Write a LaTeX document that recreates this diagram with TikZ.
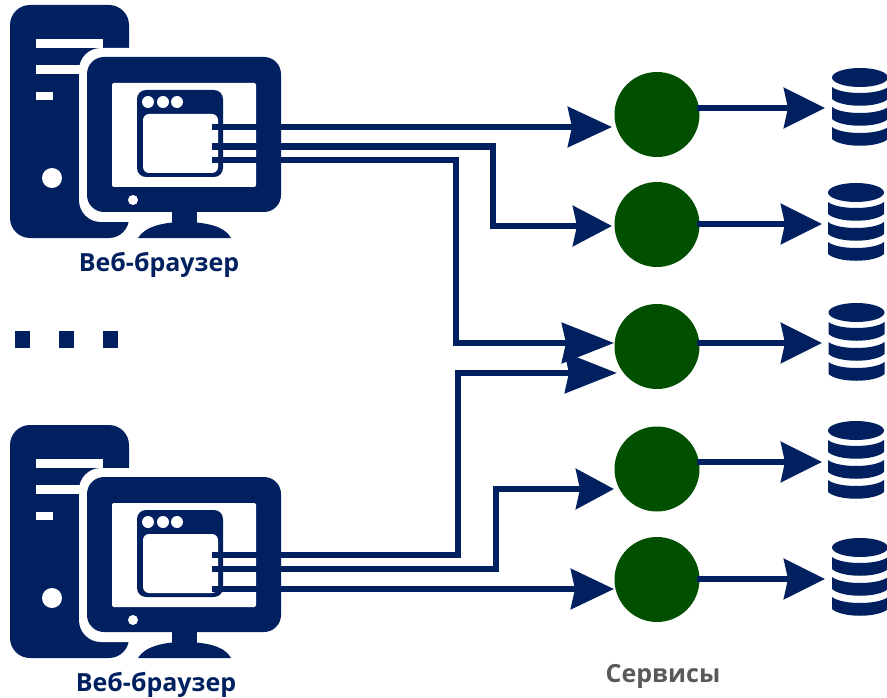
\documentclass[tikz,border=0pt]{standalone}
\usepackage{fontspec}
\setmainfont{Open Sans}
\usetikzlibrary{arrows.meta,calc}
\definecolor{navy}{HTML}{002060}
\definecolor{svcgreen}{HTML}{005000}
\definecolor{capgray}{HTML}{595959}
\tikzset{
  wire/.style={navy, line width=6.5pt, line join=miter},
  inflow/.style={wire, -{Stealth[length=#1,width=40pt,inset=4pt]}},
  outflow/.style={navy, line width=6.5pt, -{Stealth[length=41pt,width=40pt,inset=4pt]}},
  service/.style={circle, fill=svcgreen, minimum size=85pt, inner sep=0pt},
  caption/.style={navy, font=\fontsize{25}{25}\selectfont\bfseries},
}
% tower + monitor + browser window
\newcommand{\browsericon}[1]{
  \begin{scope}[shift={(0,#1)}]
  \fill[navy, rounded corners=20pt] (10,5) rectangle (129,238);
  \fill[white] (36,39) rectangle (103,48);
  \fill[white] (36,65) rectangle (90,74);
  \fill[white] (36,92) rectangle (53,100);
  \fill[white] (52,178) circle (10pt);
  \fill[white, rounded corners=22pt] (79,48) rectangle (289,222);
  \fill[navy, rounded corners=17pt] (87,57) rectangle (281,212);
  \fill[navy] (172,205) rectangle (197,226);
  \fill[navy] (138,238) .. controls (145,226) and (165,222) .. (184,222) .. controls (205,222) and (225,226) .. (231,238) -- cycle;
  \fill[white, rounded corners=2pt] (112,83) rectangle (256,187);
  \fill[white] (133,200) circle (5pt);
  \fill[navy, rounded corners=9pt] (137,90) rectangle (223,177);
  \fill[white, rounded corners=6pt] (143,114) rectangle (218,173);
  \foreach \x in {148,163,177} \fill[white] (\x,102) circle (6pt);
  \end{scope}
}
% database stack, centred on a coordinate
\newcommand{\dbicon}[1]{
  \begin{scope}[shift={(#1)}]
  \fill[navy] (0,-29.5) ellipse (28pt and 9.5pt);
  \foreach \b in {-20,0,20}
    \fill[navy] (-28,\b) .. controls (-18,\b+8) and (18,\b+8) .. (28,\b) -- (28,\b+12) .. controls (18,\b+21) and (-18,\b+21) .. (-28,\b+12) -- cycle;
  \end{scope}
}
\begin{document}
\begin{tikzpicture}[x=1pt, y=-1pt]
\useasboundingbox (0,0) rectangle (887,698);
\browsericon{0}
\browsericon{420}
\foreach \i/\y in {1/114.5,2/224.5,3/346.5,4/469,5/579.5} \node[service] (s\i) at (657,\y) {};
\foreach \i/\x/\y/\yo/\xt in {1/860/107/108/825,2/856/222/224/822,3/856.5/342/343/822,4/856/460/462/822,5/860/577/579/825} {
  \coordinate (d\i) at (\x,\y);
  \dbicon{d\i}
  \coordinate (o\i) at (697,\yo);
  \coordinate (t\i) at (\xt,\yo);
  \draw[outflow] (o\i) -- (t\i);
}
% ports on the browser windows
\foreach \n/\y in {a1/127,a2/146.5,a3/160,b1/555,b2/569,b3/589} \coordinate (\n) at (212,\y);
% tips at the services
\foreach \n/\y/\x in {e1/127/612,e2/226/612,e3/343/614,e4/373/617,e5/489/614,e6/589/614} \coordinate (\n) at (\x,\y);
\draw[inflow=44pt] (a1) -- (e1);
\draw[inflow=39pt] (a2) -- (493,146.5) -- (493,226) -- (e2);
\draw[inflow=52pt] (a3) -- (456,160) -- (456,343) -- (e3);
\draw[inflow=52pt] (b1) -- (458,555) -- (458,373) -- (e4);
\draw[inflow=38pt] (b2) -- (496,569) -- (496,489) -- (e5);
\draw[inflow=43pt] (b3) -- (e6);
\foreach \x in {15,59,103} \fill[navy] (\x,331) rectangle ++(15,17);
\node[caption] (web1) at (159,265) {Веб-браузер};
\node[caption] (web2) at (156,685) {Веб-браузер};
\node[caption, text=capgray] (svc) at (663,676) {Сервисы};
\end{tikzpicture}
\end{document}
